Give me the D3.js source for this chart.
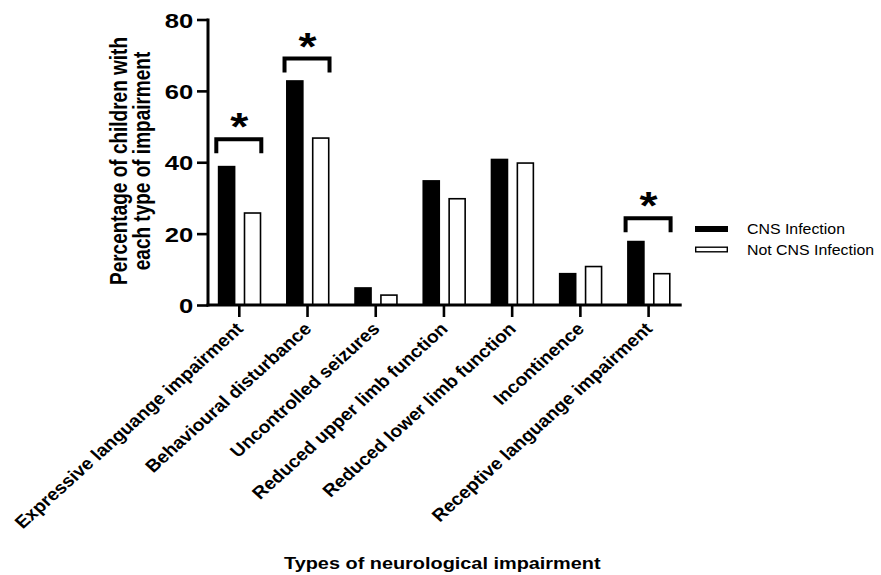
<!DOCTYPE html>
<html>
<head>
<meta charset="utf-8">
<script src="https://cdn.jsdelivr.net/npm/d3@7"></script>
<style>
  html, body { margin: 0; padding: 0; background: #fff; }
  svg { display: block; font-family: "Liberation Sans", Arial, Helvetica, sans-serif; }
</style>
</head>
<body>
<svg id="chart" width="881" height="575"></svg>
<script>
// Impairment categories and the share of children (%) in each group
const categories = [
  "Expressive languange impairment",
  "Behavioural disturbance",
  "Uncontrolled seizures",
  "Reduced upper limb function",
  "Reduced lower limb function",
  "Incontinence",
  "Receptive languange impairment"
];
const seriesNames = ["CNS Infection", "Not CNS Infection"];
const cnsValues = [39, 63, 5, 35, 41, 9, 18];
const notCnsValues = [26, 47, 3, 30, 40, 11, 9];
const yTicks = [0, 20, 40, 60, 80];

// Significant differences: category and height of the bracket (%)
const sigCategories = ["Expressive languange impairment", "Behavioural disturbance", "Receptive languange impairment"];
const sigLevels = [47, 69.6, 24.9];

const yTitleLines = ["Percentage of children with", "each type of impairment"];
const xTitle = "Types of neurological impairment";

const svg = d3.select("#chart");
const stretch = 1.22; // horizontal widening applied to text glyphs

const axisX = 208;
const y = d3.scaleLinear().domain([0, 80]).range([305, 19.5]);
const x = d3.scaleBand().domain(categories).range([205.2, 682.7]).paddingInner(0).paddingOuter(0);
const xSub = d3.scaleBand().domain(seriesNames).range([-21.5, 22]).paddingInner(0.32);

const rows = categories.map((c, i) => ({ cat: c, vals: [cnsValues[i], notCnsValues[i]] }));
const center = c => x(c) + x.bandwidth() / 2;

// Bars
const groups = svg.append("g").selectAll("g").data(rows).join("g")
  .attr("transform", d => `translate(${center(d.cat)},0)`);
groups.selectAll("rect").data(d => d.vals.map((v, k) => ({ v, s: seriesNames[k] })))
  .join("rect")
  .attr("x", d => xSub(d.s) + (d.s === seriesNames[0] ? 0 : 0.8))
  .attr("width", d => xSub.bandwidth() - (d.s === seriesNames[0] ? 0 : 1.6))
  .attr("y", d => y(d.v) + (d.s === seriesNames[0] ? 0 : 0.8))
  .attr("height", d => y(0) - y(d.v) - (d.s === seriesNames[0] ? 0 : 0.8))
  .attr("fill", d => d.s === seriesNames[0] ? "#000" : "#fff")
  .attr("stroke", d => d.s === seriesNames[0] ? "none" : "#000")
  .attr("stroke-width", 1.6);

// Y axis
const yAxis = svg.append("g").attr("transform", `translate(${axisX},0)`)
  .call(d3.axisLeft(y).tickValues(yTicks).tickSize(11).tickSizeOuter(0).tickFormat(d3.format("d")));
yAxis.select(".domain").attr("stroke", "#000").attr("stroke-width", 3)
  .attr("d", `M0,${y(80) - 1}V${y(0) + 1.5}`);
yAxis.selectAll(".tick line").attr("stroke", "#000").attr("stroke-width", 2.6);
yAxis.selectAll(".tick text")
  .attr("x", 0).attr("dy", null)
  .attr("font-size", 21).attr("font-weight", "bold").attr("fill", "#000")
  .attr("font-family", "'Liberation Sans', Arial, sans-serif")
  .attr("text-anchor", "end")
  .attr("transform", `translate(-14.7,7.5) scale(${stretch},1)`);

// X axis
const xAxis = svg.append("g").attr("transform", `translate(0,${y(0)})`)
  .call(d3.axisBottom(x).tickSize(12).tickSizeOuter(0).tickFormat(""));
xAxis.select(".domain").attr("stroke", "#000").attr("stroke-width", 3)
  .attr("d", `M${axisX - 1.5},0H${x.range()[1] - 1}`);
xAxis.selectAll(".tick line").attr("stroke", "#000").attr("stroke-width", 2.6);

// Rotated category labels
const labelScale = 1.11;
svg.append("g").selectAll("text").data(categories).join("text")
  .attr("transform", d => `translate(${center(d) + 5},${y(0) + 25}) scale(${labelScale},1) rotate(-45)`)
  .attr("text-anchor", "end")
  .attr("font-size", 17.4).attr("font-weight", "bold").attr("fill", "#000")
  .text(d => d);

// Significance brackets and stars
const sig = sigCategories.map((c, i) => ({ c, level: sigLevels[i] }));
const br = svg.append("g").selectAll("g").data(sig).join("g")
  .attr("transform", d => `translate(${center(d.c)},${y(d.level)})`);
br.append("path")
  .attr("d", d => `M${xSub(seriesNames[0]) - 1.5},16V2H${xSub(seriesNames[1]) + xSub.bandwidth()}V16`)
  .attr("fill", "none").attr("stroke", "#000").attr("stroke-width", 4)
  .attr("stroke-linejoin", "miter").attr("stroke-linecap", "butt");
br.append("text")
  .attr("x", 0).attr("y", 0)
  .attr("transform", `translate(0,3) scale(${stretch},1)`)
  .attr("text-anchor", "middle")
  .attr("font-size", 38).attr("font-weight", "bold").attr("fill", "#000")
  .text("*");

// Axis titles
svg.append("g").selectAll("text").data(yTitleLines).join("text")
  .attr("transform", (d, i) => `translate(${127 + i * 22.5},161) scale(${stretch},1) rotate(-90)`)
  .attr("text-anchor", "middle")
  .attr("font-size", 19).attr("font-weight", "bold").attr("fill", "#000")
  .text(d => d);

svg.append("text")
  .attr("transform", `translate(442.3,569) scale(${stretch},1)`)
  .attr("text-anchor", "middle")
  .attr("font-size", 16.3).attr("font-weight", "bold").attr("fill", "#000")
  .text(xTitle);

// Legend
const legend = svg.append("g").attr("transform", "translate(695,0)");
const legendRows = seriesNames.map((s, i) => ({ s, cy: 229 + i * 20.5 }));
legend.selectAll("rect").data(legendRows).join("rect")
  .attr("x", (d, i) => i === 0 ? 0 : 0.7)
  .attr("y", (d, i) => d.cy - (i === 0 ? 3 : 2.3))
  .attr("width", (d, i) => i === 0 ? 33 : 31.6)
  .attr("height", (d, i) => i === 0 ? 6 : 4.6)
  .attr("fill", (d, i) => i === 0 ? "#000" : "#fff")
  .attr("stroke", (d, i) => i === 0 ? "none" : "#000")
  .attr("stroke-width", 1.4);
legend.selectAll("text").data(legendRows).join("text")
  .attr("transform", d => `translate(52,${d.cy + 5.4}) scale(1.06,1)`)
  .attr("font-size", 15).attr("fill", "#000")
  .text(d => d.s);
</script>
</body>
</html>
